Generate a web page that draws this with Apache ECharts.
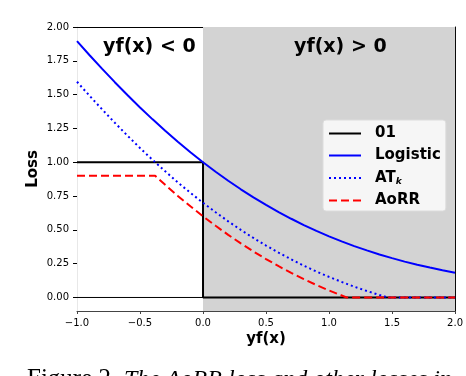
<!DOCTYPE html>
<html>
<head>
<meta charset="utf-8">
<script src="https://cdn.jsdelivr.net/npm/echarts@6/dist/echarts.min.js"></script>
<style>
  html, body { margin: 0; padding: 0; background: #fff; }
  #chart { width: 466px; height: 376px; }
</style>
</head>
<body>
<div id="chart"></div>
<script>
// values
const xs = [-1.0, -0.9, -0.8, -0.7, -0.6, -0.5, -0.4, -0.3, -0.2, -0.1, 0.0,
  0.1, 0.2, 0.3, 0.4, 0.5, 0.6, 0.7, 0.8, 0.9, 1.0,
  1.1, 1.2, 1.3, 1.4, 1.5, 1.6, 1.7, 1.8, 1.9, 2.0]
const logistic = [1.895, 1.791, 1.690, 1.592, 1.497, 1.405, 1.317, 1.233, 1.151, 1.074, 1.000,
  0.930, 0.863, 0.800, 0.740, 0.684, 0.631, 0.582, 0.535, 0.492, 0.452,
  0.415, 0.380, 0.348, 0.318, 0.291, 0.265, 0.242, 0.221, 0.201, 0.183]

const atkX = [-1.0, -0.9, -0.8, -0.7, -0.6, -0.5, -0.4, -0.3, -0.2, -0.1, 0.0,
  0.1, 0.2, 0.3, 0.4, 0.5, 0.6, 0.7, 0.8, 0.9, 1.0, 1.1, 1.2, 1.3, 1.4, 1.47, 2.0]
const atk = [1.595, 1.491, 1.390, 1.292, 1.197, 1.105, 1.017, 0.933, 0.851, 0.774, 0.700,
  0.630, 0.563, 0.500, 0.440, 0.384, 0.331, 0.282, 0.235, 0.192, 0.152, 0.115, 0.080, 0.048, 0.018, 0, 0]

const aorrX = [-1.0, -0.38, -0.3, -0.2, -0.1, 0.0, 0.1, 0.2, 0.3, 0.4, 0.5,
  0.6, 0.7, 0.8, 0.9, 1.0, 1.1, 1.14, 2.0]
const aorr = [0.9, 0.9, 0.833, 0.751, 0.674, 0.600, 0.530, 0.463, 0.400, 0.340, 0.284,
  0.231, 0.182, 0.135, 0.092, 0.052, 0.015, 0, 0]

const zeroOneX = [-1, 0, 0, 2]
const zeroOne = [1, 1, 0, 0]

const yTicks = [0, 0.25, 0.5, 0.75, 1.0, 1.25, 1.5, 1.75, 2.0]

const pairs = (x, y) => x.map((v, i) => [v, y[i]])
const FONT = 'DejaVu Sans'

const chart = echarts.init(document.getElementById('chart'))

chart.setOption({
  animation: false,
  textStyle: { fontFamily: FONT },
  grid: { left: 77, right: 10, top: 27, bottom: 65 },
  legend: {
    orient: 'vertical',
    left: 323,
    top: 120,
    padding: [6, 5, 3, 5],
    itemWidth: 32,
    itemHeight: 14,
    itemGap: 7,
    itemStyle: { opacity: 0 },
    backgroundColor: 'rgba(255,255,255,0.8)',
    borderColor: '#dcdcdc',
    borderWidth: 1,
    borderRadius: 3,
    data: ['01', 'Logistic', 'ATk', 'AoRR'],
    formatter: name => name === 'ATk' ? '{b|AT}{s|k}' : name,
    textStyle: {
      fontFamily: FONT,
      fontWeight: 'bold',
      fontSize: 15,
      lineHeight: 14,
      color: '#000',
      padding: [0, 0, 0, 9],
      rich: {
        b: { fontFamily: FONT, fontWeight: 'bold', fontSize: 15, lineHeight: 14, color: '#000' },
        s: { fontFamily: FONT, fontStyle: 'italic', fontSize: 9, lineHeight: 14, color: '#000', padding: [7, 0, 0, 0] }
      }
    }
  },
  xAxis: [
    {
      type: 'value', min: -1, max: 2, interval: 0.5,
      name: 'yf(x)', nameLocation: 'middle', nameGap: 21, nameMoveOverlap: false,
      nameTextStyle: { fontFamily: FONT, fontWeight: 'bold', fontSize: 15, color: '#000' },
      axisLine: { onZero: false, lineStyle: { color: '#444', width: 1 } },
      axisTick: { show: true, length: 3, lineStyle: { color: '#444' } },
      axisLabel: {
        fontFamily: FONT, fontSize: 10, color: '#000', margin: 7,
        formatter: v => (v < 0 ? '\u2212' : '') + Math.abs(v).toFixed(1)
      },
      splitLine: { show: false }
    },
    {
      type: 'value', min: -1, max: 2, position: 'top',
      axisLine: { show: true, onZero: false, lineStyle: { color: '#000', width: 1 } },
      axisTick: { show: false }, axisLabel: { show: false }, splitLine: { show: false }
    }
  ],
  yAxis: [
    {
      type: 'value', min: -0.1, max: 2.0,
      name: 'Loss', nameLocation: 'middle', nameGap: 36, nameMoveOverlap: false,
      nameTextStyle: { fontFamily: FONT, fontWeight: 'bold', fontSize: 15, color: '#000' },
      axisLine: { show: true, onZero: false, lineStyle: { color: '#e8e8e8', width: 1 } },
      axisTick: { show: true, length: 4, customValues: yTicks, lineStyle: { color: '#000' } },
      axisLabel: {
        fontFamily: FONT, fontSize: 10, color: '#000', margin: 8,
        customValues: yTicks,
        formatter: v => v.toFixed(2)
      },
      splitLine: { show: false }
    },
    {
      type: 'value', min: -0.1, max: 2.0, position: 'right',
      axisLine: { show: true, onZero: false, lineStyle: { color: '#000', width: 1 } },
      axisTick: { show: false }, axisLabel: { show: false }, splitLine: { show: false }
    }
  ],
  series: [
    {
      name: 'zero',
      type: 'line',
      data: [[-1, 0], [2, 0]],
      symbol: 'none',
      lineStyle: { color: '#000', width: 1 },
      silent: true,
      markArea: {
        silent: true,
        itemStyle: { color: '#d3d3d3' },
        data: [[{ xAxis: 0 }, { xAxis: 2 }]]
      },
      z: 1
    },
    {
      name: '01',
      type: 'line',
      data: pairs(zeroOneX, zeroOne),
      symbol: 'none',
      color: '#000',
      lineStyle: { color: '#000', width: 2 },
      z: 2
    },
    {
      name: 'Logistic',
      type: 'line',
      data: pairs(xs, logistic),
      symbol: 'none',
      color: '#0000ff',
      lineStyle: { color: '#0000ff', width: 2 },
      z: 3
    },
    {
      name: 'ATk',
      type: 'line',
      data: pairs(atkX, atk),
      symbol: 'none',
      color: '#0000ff',
      lineStyle: { color: '#0000ff', width: 2, type: [2, 3] },
      z: 4
    },
    {
      name: 'AoRR',
      type: 'line',
      data: pairs(aorrX, aorr),
      symbol: 'none',
      color: '#ff0000',
      lineStyle: { color: '#ff0000', width: 2, type: [8, 4] },
      z: 5
    }
  ],
  graphic: [
    {
      type: 'text', left: 103, top: 38, z: 10,
      style: { text: 'yf(x) < 0', fontFamily: FONT, fontWeight: 'bold', fontSize: 19, fill: '#000' }
    },
    {
      type: 'text', left: 294, top: 38, z: 10,
      style: { text: 'yf(x) > 0', fontFamily: FONT, fontWeight: 'bold', fontSize: 19, fill: '#000' }
    },
    {
      type: 'text', left: 27, top: 367, z: 10,
      style: {
        text: '{n|Figure 2.}  {i|The AoRR loss and other losses in}',
        rich: {
          n: { fontFamily: 'Liberation Serif', fontSize: 25, fill: '#000' },
          i: { fontFamily: 'Liberation Serif', fontStyle: 'italic', fontSize: 24, fill: '#000' }
        }
      }
    }
  ]
})
</script>
</body>
</html>
